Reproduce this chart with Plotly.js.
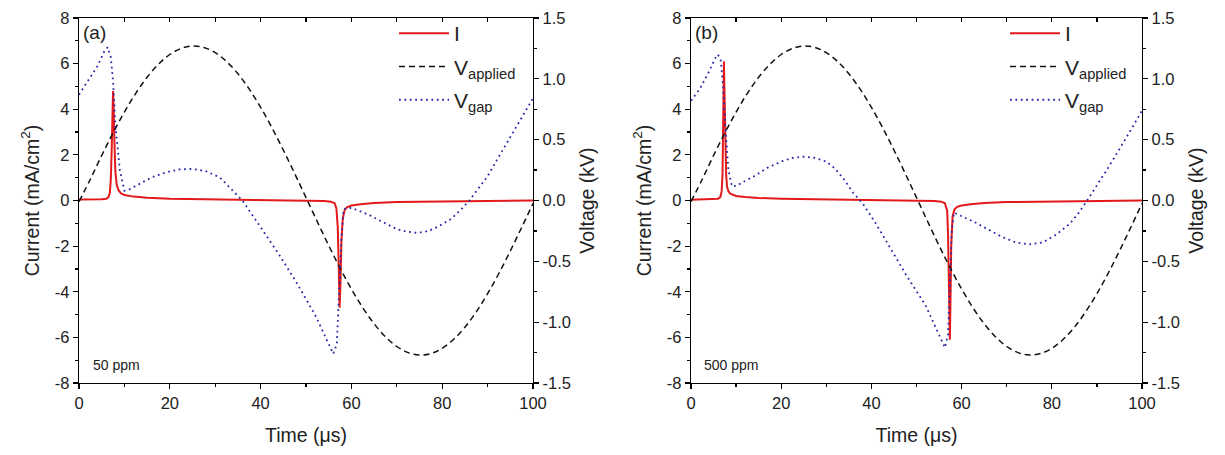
<!DOCTYPE html>
<html>
<head>
<meta charset="utf-8">
<script src="https://cdn.plot.ly/plotly-3.0.1.min.js"></script>
<style>html,body{margin:0;padding:0;background:#fff}#chart{width:1225px;height:455px}</style>
</head>
<body>
<div id="chart"></div>
<script>
// ---------- data ----------
const panelLabels = ["(a)", "(b)"];
const concLabels = ["50 ppm", "500 ppm"];
const seriesNames = ["I", "V<sub>applied</sub>", "V<sub>gap</sub>"];

// tick labels
const currentTicks = [-8, -6, -4, -2, 0, 2, 4, 6, 8];
const currentTickText = ["-8", "-6", "-4", "-2", "0", "2", "4", "6", "8"];
const voltTicks = [-1.5, -1.0, -0.5, 0.0, 0.5, 1.0, 1.5];
const voltTickText = ["-1.5", "-1.0", "-0.5", "0.0", "0.5", "1.0", "1.5"];
const timeTicks = [0, 20, 40, 60, 80, 100];
const timeTickText = ["0", "20", "40", "60", "80", "100"];

// applied voltage (kV), both panels
const tApplied = [0,2.5,5,7.5,10,12.5,15,17.5,20,22.5,25,27.5,30,32.5,35,37.5,40,42.5,45,47.5,50,52.5,55,57.5,60,62.5,65,67.5,70,72.5,75,77.5,80,82.5,85,87.5,90,92.5,95,97.5,100];
const vAppliedA = [-0.01,0.175,0.37,0.555,0.727,0.881,1.013,1.12,1.2,1.25,1.27,1.258,1.215,1.142,1.042,0.915,0.766,0.598,0.415,0.222,0.024,-0.175,-0.37,-0.555,-0.727,-0.881,-1.013,-1.12,-1.2,-1.25,-1.27,-1.258,-1.215,-1.142,-1.042,-0.915,-0.766,-0.598,-0.415,-0.222,-0.024];
const vAppliedB = [-0.01,0.175,0.37,0.555,0.727,0.881,1.013,1.12,1.2,1.25,1.27,1.258,1.215,1.142,1.042,0.915,0.766,0.598,0.415,0.222,0.024,-0.175,-0.37,-0.555,-0.727,-0.881,-1.013,-1.12,-1.2,-1.25,-1.27,-1.258,-1.215,-1.142,-1.042,-0.915,-0.766,-0.598,-0.415,-0.222,-0.024];

// gap voltage (kV)
const tGapA = [0,2,4,5.5,6.3,7,7.5,8,9,10,11,13,16,19,22,25,28,31,34,36,40,44,48,52,55,56,56.8,57.3,57.8,58.3,60,62,64,66,68,70,72,74,76,78,80,82,84,86,88,90,92,94,96,98,100];
const vGapA = [0.87,0.98,1.1,1.22,1.26,1.18,0.98,0.62,0.25,0.08,0.09,0.13,0.19,0.23,0.255,0.26,0.24,0.19,0.08,0.0,-0.22,-0.44,-0.68,-0.94,-1.18,-1.26,-1.18,-0.8,-0.3,-0.07,-0.06,-0.09,-0.12,-0.16,-0.2,-0.235,-0.255,-0.265,-0.26,-0.235,-0.195,-0.15,-0.08,0.0,0.1,0.2,0.33,0.46,0.58,0.71,0.84];
const tGapB = [0,2,4,5.5,6.0,6.6,7.1,7.6,8.3,9.1,10,12,14,17,20,22.5,25,27.5,30,32,34,36,38,41,44,48,52,55,56.3,57.0,57.4,57.8,58.3,60,63,66,69,72,75,78,81,84,86,88,90,92,94,96,98,100];
const vGapB = [0.82,0.92,1.06,1.18,1.2,1.15,0.95,0.6,0.25,0.115,0.12,0.16,0.2,0.27,0.32,0.35,0.36,0.35,0.32,0.26,0.17,0.06,-0.02,-0.19,-0.38,-0.63,-0.86,-1.1,-1.21,-1.1,-0.7,-0.25,-0.1,-0.13,-0.18,-0.24,-0.3,-0.345,-0.36,-0.345,-0.28,-0.19,-0.1,0.01,0.12,0.24,0.36,0.48,0.61,0.74];

// discharge current density (mA/cm2)
const tCurA = [0,3,5,6,6.5,6.8,7.0,7.2,7.4,7.5,7.6,7.8,8.0,8.3,8.7,9.2,10,12,15,20,30,40,50,54,55.5,56.3,56.7,57.0,57.2,57.4,57.6,57.8,58.1,58.5,59,60,62,65,70,80,90,100];
const curA = [0.04,0.04,0.05,0.08,0.15,0.35,0.9,2.2,4.0,4.8,4.3,2.6,1.3,0.7,0.45,0.32,0.24,0.17,0.12,0.08,0.05,0.02,0.0,-0.02,-0.05,-0.12,-0.35,-1.2,-2.8,-4.7,-3.6,-1.8,-0.8,-0.42,-0.3,-0.22,-0.16,-0.11,-0.07,-0.04,-0.02,0.0];
const tCurB = [0,3,5,6,6.5,6.8,7.0,7.15,7.3,7.45,7.6,7.8,8.0,8.3,8.7,9.2,10,12,15,20,30,40,50,54,55.5,56.3,56.8,57.0,57.2,57.4,57.55,57.7,58.0,58.4,59,60,62,65,70,80,90,100];
const curB = [0.03,0.04,0.05,0.08,0.15,0.4,1.2,3.5,6.1,4.5,2.4,1.1,0.6,0.4,0.3,0.25,0.2,0.15,0.11,0.08,0.05,0.02,0.0,-0.02,-0.05,-0.12,-0.45,-1.5,-3.8,-6.1,-4.2,-2.0,-0.7,-0.4,-0.28,-0.22,-0.16,-0.11,-0.07,-0.04,-0.02,0.0];

// ---------- styling ----------
const FONT = "Liberation Sans, Arial, sans-serif";
const RED = "#e31a1c", BLACK = "#111111", BLUE = "#2a2aa8";
const W = 1225, H = 455;
const yDom = [1 - 383 / H, 1 - 18 / H];
const xDomA = [79 / W, 533 / W];
const xDomB = [691 / W, 1142 / W];

const traces = [
  {x: tCurA, y: curA, name: seriesNames[0], xaxis: "x", yaxis: "y", mode: "lines", line: {color: RED, width: 2}, legend: "legend", legendgroup: "a1"},
  {x: tApplied, y: vAppliedA, name: seriesNames[1], xaxis: "x3", yaxis: "y2", mode: "lines", line: {color: BLACK, width: 1.5, dash: "6px,4px", shape: "spline"}, legend: "legend", legendgroup: "a2"},
  {x: tGapA, y: vGapA, name: seriesNames[2], xaxis: "x3", yaxis: "y2", mode: "lines", line: {color: BLUE, width: 1.8, dash: "1.8px,3.6px"}, legend: "legend", legendgroup: "a3"},
  {x: tCurB, y: curB, name: seriesNames[0], xaxis: "x2", yaxis: "y3", mode: "lines", line: {color: RED, width: 2}, legend: "legend2", legendgroup: "b1"},
  {x: tApplied, y: vAppliedB, name: seriesNames[1], xaxis: "x4", yaxis: "y4", mode: "lines", line: {color: BLACK, width: 1.5, dash: "6px,4px", shape: "spline"}, legend: "legend2", legendgroup: "b2"},
  {x: tGapB, y: vGapB, name: seriesNames[2], xaxis: "x4", yaxis: "y4", mode: "lines", line: {color: BLUE, width: 1.8, dash: "1.8px,3.6px"}, legend: "legend2", legendgroup: "b3"}
];

const tickFont = {family: FONT, size: 16.5, color: "#222"};
const titleFont = {family: FONT, size: 19.5, color: "#222"};

function bottomX(dom) {
  return {domain: dom, range: [0, 100], tickmode: "array", tickvals: timeTicks, ticktext: timeTickText,
    ticks: "outside", ticklen: 5, tickwidth: 1.2,
    tickcolor: "#000", showline: true, linecolor: "#000", linewidth: 1.2, showgrid: false, zeroline: false,
    tickfont: tickFont, title: {text: "Time (\u03bcs)", font: titleFont, standoff: 17},
    minor: {ticks: "outside", dtick: 10, ticklen: 3, tickcolor: "#000"}, automargin: false};
}
function topX(dom, over, anc) {
  return {domain: dom, range: [0, 100], overlaying: over, matches: over, side: "top", anchor: anc, dtick: 10, ticks: "inside",
    ticklen: 4, tickwidth: 1.2, tickcolor: "#000", showline: true, linecolor: "#000", linewidth: 1.2,
    showgrid: false, zeroline: false, showticklabels: false};
}
function leftY(anchor) {
  return {domain: yDom, anchor: anchor, range: [-8, 8], tickmode: "array", tickvals: currentTicks, ticktext: currentTickText,
    ticks: "outside", ticklen: 5, tickwidth: 1.2,
    tickcolor: "#000", showline: true, linecolor: "#000", linewidth: 1.2, showgrid: false, zeroline: false,
    tickfont: tickFont, title: {text: "Current (mA/cm<sup>2</sup>)", font: titleFont, standoff: 10},
    minor: {ticks: "outside", dtick: 1, ticklen: 3, tickcolor: "#000"}, automargin: false};
}
function rightY(over, anchor) {
  return {domain: yDom, overlaying: over, anchor: anchor, side: "right", range: [-1.5, 1.5],
    tickmode: "array", tickvals: voltTicks, ticktext: voltTickText,
    ticks: "outside", ticklen: 5, tickwidth: 1.2, tickcolor: "#000", showline: true,
    linecolor: "#000", linewidth: 1.2, showgrid: false, zeroline: false, tickfont: tickFont,
    title: {text: "Voltage (kV)", font: titleFont, standoff: 10},
    minor: {ticks: "outside", dtick: 0.25, ticklen: 3, tickcolor: "#000"}, automargin: false};
}
function legendAt(xpx) {
  return {x: xpx / W, xanchor: "left", y: 1 - 13 / H, yanchor: "top", bgcolor: "rgba(0,0,0,0)",
    font: {family: FONT, size: 21, color: "#222"}, traceorder: "grouped", tracegroupgap: 3, itemwidth: 50};
}

const layout = {
  width: W, height: H, margin: {l: 0, r: 0, t: 0, b: 0},
  paper_bgcolor: "#fff", plot_bgcolor: "rgba(0,0,0,0)",
  showlegend: true,
  xaxis: bottomX(xDomA),
  xaxis2: Object.assign(bottomX(xDomB), {anchor: "y3"}),
  xaxis3: topX(xDomA, "x", "y2"),
  xaxis4: topX(xDomB, "x2", "y4"),
  yaxis: leftY("x"),
  yaxis2: rightY("y", "x3"),
  yaxis3: leftY("x2"),
  yaxis4: rightY("y3", "x4"),
  legend: legendAt(394),
  legend2: legendAt(1005),
  annotations: [
    {text: panelLabels[0], x: 81 / W, y: 1 - 33 / H, xref: "paper", yref: "paper", xanchor: "left", yanchor: "middle", showarrow: false, font: {family: FONT, size: 19, color: "#222"}},
    {text: panelLabels[1], x: 693 / W, y: 1 - 33 / H, xref: "paper", yref: "paper", xanchor: "left", yanchor: "middle", showarrow: false, font: {family: FONT, size: 19, color: "#222"}},
    {text: concLabels[0], x: 91 / W, y: 1 - 365 / H, xref: "paper", yref: "paper", xanchor: "left", yanchor: "middle", showarrow: false, font: {family: FONT, size: 14, color: "#222"}},
    {text: concLabels[1], x: 702 / W, y: 1 - 365 / H, xref: "paper", yref: "paper", xanchor: "left", yanchor: "middle", showarrow: false, font: {family: FONT, size: 14, color: "#222"}}
  ]
};

Plotly.newPlot("chart", traces, layout, {staticPlot: true, displayModeBar: false});
</script>
</body>
</html>
